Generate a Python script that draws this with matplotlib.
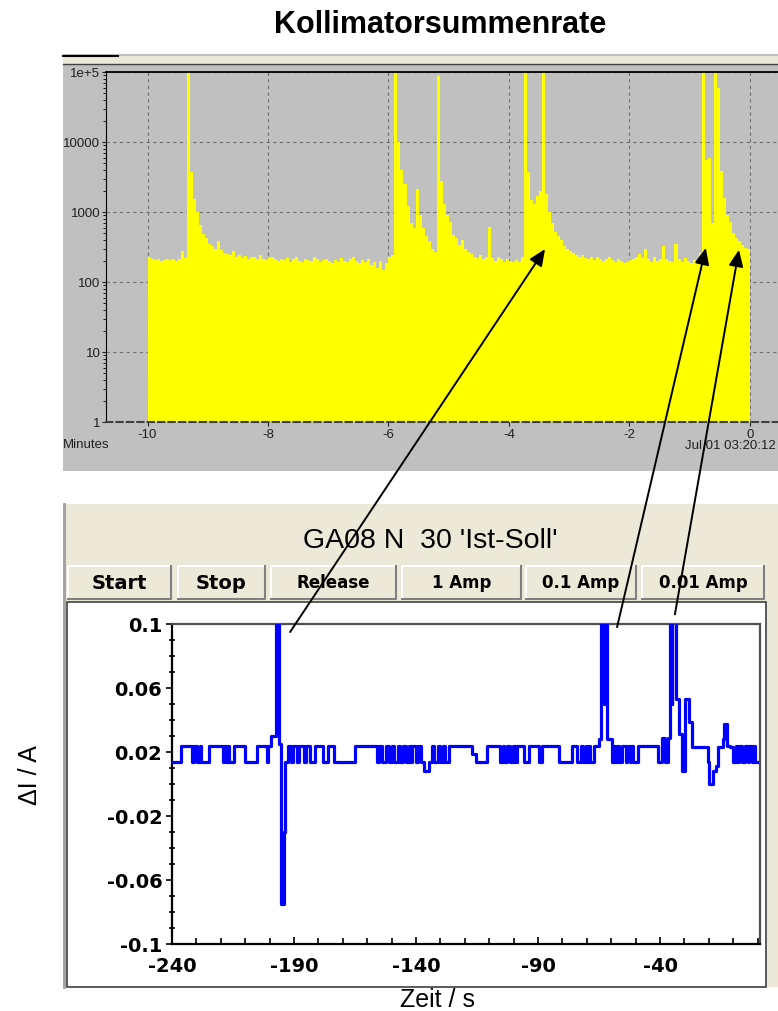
import matplotlib
matplotlib.use("Agg")
import matplotlib.pyplot as plt
from matplotlib.patches import Rectangle, ConnectionPatch
from matplotlib.ticker import MultipleLocator, NullFormatter
import numpy as np

plt.rcParams['font.family'] = ['Liberation Sans', 'DejaVu Sans']

W, H = 778, 1012

##
## top: Kollimatorsummenrate, bins of 0.05 min from -10 to 0
##
bin_width = 0.05
counts = [
    230, 215, 205, 210, 200, 205, 210, 205, 215, 200, 210, 280, 220,      # -10 .. -9.35
    200000,                                                               # peak -9.33
    3700, 1550, 1000, 650, 480, 420, 350, 330, 300, 380, 290,
    260, 250, 240, 280, 230, 245, 220, 235, 215, 230, 225, 210, 240, 215, 205, 220,
    230, 210, 200, 215, 205, 220, 195, 210, 225, 200,
    190, 215, 205, 200, 230, 210, 195, 205, 215, 200,
    185, 205, 195, 220, 200, 190, 210, 230, 200, 185,
    205, 195, 215, 175, 190, 160, 200, 150, 185, 230, 240,
    200000,                                                               # peak -5.88
    10000, 4000, 2500, 1200, 700, 600, 2100, 900, 600, 450, 380, 300, 270,
    87000,                                                                # peak -5.18
    2800, 1300, 900, 720, 470, 420, 340, 400, 300, 270, 250, 230, 220, 245, 210, 230,
    610,
    220, 200, 230, 210, 195, 215, 200, 190, 205, 195, 230,
    200000,                                                               # peak -3.75
    3700, 1500, 1300, 1700, 2000,
    200000,                                                               # peak -3.45
    1800, 1000, 700, 520, 450, 400, 330, 300, 280, 260,
    240, 230, 245, 220, 215, 230, 205, 225, 210, 200,
    215, 230, 205, 195, 210, 200, 185, 195, 205, 215, 230, 250, 220,
    300,
    210, 195, 230, 200, 210,
    330,
    215, 200, 195,
    350,
    210, 190, 220, 200, 185, 205, 195, 260,
    200000,                                                               # peak -0.78
    5500, 6000, 700,
    200000,                                                               # peak -0.58
    60000, 3800, 1600, 900, 720, 500, 420, 380, 340, 310, 300,
]
minute_ticks = [-10, -8, -6, -4, -2, 0]
decade_ticks = [1, 10, 100, 1000, 10000, 100000]
decade_labels = ['1', '10', '100', '1000', '10000', '1e+5']

##
## bottom: GA08 N 30 Ist-Soll (step trace)
##
t_ist = [
    -240.0, -236.5, -232.0, -231.0, -229.6, -228.5, -228.0, -224.9, -219.3, -218.5,
    -218.0, -217.0, -216.5, -214.6, -209.9, -205.2, -201.0, -200.5, -199.5, -197.4,
    -196.0, -195.4, -194.0, -193.5, -192.5, -191.2, -190.5, -188.8, -188.0, -186.0,
    -185.0, -183.6, -181.5, -178.0, -176.0, -173.6, -165.0, -156.0, -155.0, -154.0,
    -152.5, -151.0, -150.0, -149.0, -147.5, -146.5, -145.5, -144.0, -143.0, -142.0,
    -141.5, -140.0, -139.0, -138.0, -136.8, -134.5, -133.5, -132.5, -131.0, -130.0,
    -129.0, -128.0, -126.5, -117.0, -115.5, -110.9, -105.4, -104.5, -104.0, -102.7,
    -101.5, -100.3, -99.6, -98.8, -95.8, -93.8, -89.7, -88.3, -81.5, -76.0,
    -74.0, -72.5, -71.5, -70.5, -69.9, -69.0, -68.5, -67.1, -65.0, -64.0,
    -62.8, -62.7, -61.6, -59.8, -59.0, -58.5, -57.5, -57.0, -55.7, -54.0,
    -53.5, -52.5, -52.0, -51.0, -49.0, -40.8, -39.2, -38.0, -36.8, -36.0,
    -35.0, -34.9, -33.6, -32.2, -31.1, -29.9, -28.3, -27.0, -20.2, -19.9,
    -18.1, -17.0, -16.1, -14.3, -13.8, -12.4, -11.3, -10.2, -9.0, -8.0,
    -7.5, -6.5, -5.0, -4.0, -3.5, -2.5, -1.5, -1.0, -0.3,
]
d_ist = [
    0.014, 0.024, 0.014, 0.024, 0.014, 0.024, 0.014, 0.024, 0.014, 0.024,
    0.014, 0.024, 0.014, 0.024, 0.014, 0.024, 0.014, 0.024, 0.030, 0.120,
    0.025, -0.075, -0.030, 0.014, 0.024, 0.014, 0.024, 0.014, 0.024, 0.014,
    0.024, 0.014, 0.024, 0.014, 0.024, 0.014, 0.024, 0.014, 0.024, 0.014,
    0.024, 0.014, 0.024, 0.014, 0.024, 0.014, 0.024, 0.014, 0.024, 0.014,
    0.024, 0.014, 0.024, 0.014, 0.008, 0.014, 0.024, 0.014, 0.024, 0.014,
    0.024, 0.014, 0.024, 0.019, 0.014, 0.024, 0.014, 0.024, 0.014, 0.024,
    0.014, 0.024, 0.014, 0.024, 0.014, 0.024, 0.014, 0.024, 0.014, 0.024,
    0.014, 0.024, 0.014, 0.024, 0.014, 0.024, 0.014, 0.024, 0.028, 0.120,
    0.050, 0.120, 0.028, 0.014, 0.024, 0.014, 0.024, 0.014, 0.024, 0.014,
    0.024, 0.014, 0.024, 0.014, 0.024, 0.014, 0.029, 0.014, 0.029, 0.120,
    0.050, 0.120, 0.053, 0.031, 0.008, 0.053, 0.039, 0.023, 0.014, 0.000,
    0.008, 0.011, 0.023, 0.028, 0.0375, 0.024, 0.023, 0.014, 0.024, 0.014,
    0.024, 0.014, 0.024, 0.014, 0.024, 0.014, 0.024, 0.014, 0.014,
]
sec_ticks = [-240, -190, -140, -90, -40]
amp_ticks = [-0.1, -0.06, -0.02, 0.02, 0.06, 0.1]
amp_labels = ['-0.1', '-0.06', '-0.02', '0.02', '0.06', '0.1']
buttons = ['Start', 'Stop', 'Release', '1 Amp', '0.1 Amp', '0.01 Amp']

## arrows: tail (s, A) in lower plot -> head (min, counts) in upper plot
arrow_tail_s = [-191.6, -57.6, -33.9]
arrow_tail_a = [0.095, 0.098, 0.106]
arrow_head_min = [-3.40, -0.73, -0.18]
arrow_head_cnt = [295, 307, 288]


def box(x0, y0, x1, y1):
    # pixel box (top-left origin) -> figure fraction
    return [x0 / W, 1 - y1 / H, (x1 - x0) / W, (y1 - y0) / H]


fig = plt.figure(figsize=(W / 100, H / 100), dpi=100)

bg = fig.add_axes([0, 0, 1, 1])
bg.set_xlim(0, W)
bg.set_ylim(H, 0)
bg.axis('off')


def rect(x0, y0, x1, y1, **kw):
    bg.add_patch(Rectangle((x0, y0), x1 - x0, y1 - y0, **kw))


BEIGE = '#ece9d8'

## top window
rect(63, 55, 778, 472, fc='#c0c0c0', lw=0)
rect(63, 57, 778, 65, fc=BEIGE, lw=0)
bg.plot([63, 118], [56.5, 56.5], color='black', lw=1.5)
bg.plot([63, 778], [65, 65], color='#404040', lw=1)

## bottom window
rect(63, 505, 778, 988, fc=BEIGE, lw=0)
bg.plot([64, 64], [505, 988], color='#a0a0a0', lw=2)
rect(67, 603, 766, 988, fc='white', ec='#404040', lw=1.2)
bg.text(430, 541, "GA08 N  30 'Ist-Soll'", ha='center', va='center', fontsize=20.5)

button_x = [(67, 172), (177, 266), (270, 397), (401, 522), (525, 637), (641, 765)]
by0, by1 = 566, 601
for (x0, x1), name in zip(button_x, buttons):
    rect(x0, by0, x1, by1, fc=BEIGE, lw=0)
    bg.plot([x0 + 1, x0 + 1, x1 - 1], [by1 - 1, by0 + 1, by0 + 1], color='white', lw=1.5)
    bg.plot([x0 + 1, x1 - 1, x1 - 1], [by1 - 1, by1 - 1, by0 + 1], color='#808080', lw=1.5)
    fs = 14 if name in ('Start', 'Stop') else 12
    bg.text((x0 + x1) / 2, (by0 + by1) / 2, name, ha='center', va='center',
            fontsize=fs, weight='bold', family='DejaVu Sans')

## top plot
ax1 = fig.add_axes(box(106, 73, 810, 423))
edges = -10 + bin_width * np.arange(len(counts) + 1)
ax1.fill_between(edges, counts + [counts[-1]], 1, step='post', color='#ffff00', lw=0, zorder=2)
ax1.set_yscale('log')
ax1.set_ylim(1, 1e5)
ax1.set_xlim(-10.69, 1.0)
ax1.set_facecolor('#c0c0c0')
ax1.set_axisbelow(True)
ax1.grid(True, which='major', color='#707070', ls=(0, (3, 3)), lw=0.8)
ax1.set_xticks(minute_ticks)
ax1.set_xticklabels([str(m) for m in minute_ticks])
ax1.set_yticks(decade_ticks)
ax1.set_yticklabels(decade_labels)
ax1.yaxis.set_minor_formatter(NullFormatter())
ax1.tick_params(axis='both', labelsize=9.5, colors='#202020', length=3, width=0.8, pad=1)
ax1.tick_params(axis='x', pad=1)
ax1.tick_params(axis='y', which='minor', length=2, width=0.6)
ax1.spines['left'].set_color('black')
ax1.spines['top'].set_color('black')
ax1.spines['top'].set_linewidth(1.3)
ax1.spines['bottom'].set_color('#404040')
ax1.spines['bottom'].set_linestyle((0, (3, 2)))
ax1.spines['bottom'].set_linewidth(1.5)
ax1.spines['right'].set_visible(False)
bg.text(63, 445, 'Minutes', ha='left', va='center', fontsize=9.5, color='#202020')
bg.text(685, 446, 'Jul 01 03:20:12 2', ha='left', va='center', fontsize=9.5, color='#202020')

## bottom plot
ax2 = fig.add_axes(box(172, 625, 760, 945))
ax2.step(t_ist, d_ist, where='post', color='#0000ff', lw=2.3, zorder=3)
ax2.set_xlim(-240, 0.98)
ax2.set_ylim(-0.1, 0.1)
ax2.set_xticks(sec_ticks)
ax2.set_xticklabels([str(s) for s in sec_ticks])
ax2.set_yticks(amp_ticks)
ax2.set_yticklabels(amp_labels)
ax2.xaxis.set_minor_locator(MultipleLocator(10))
ax2.yaxis.set_minor_locator(MultipleLocator(0.01))
for lab in ax2.get_xticklabels() + ax2.get_yticklabels():
    lab.set_family('DejaVu Sans')
    lab.set_weight('bold')
    lab.set_fontsize(14)
ax2.tick_params(axis='x', which='major', direction='in', length=5, width=1.2, pad=9)
ax2.tick_params(axis='x', which='minor', direction='in', length=4, width=1.2)
ax2.tick_params(axis='y', which='major', direction='out', length=4, width=1.2, pad=3)
ax2.tick_params(axis='y', which='minor', direction='inout', length=4, width=1.2)
for side in ('left', 'bottom'):
    ax2.spines[side].set_color('black')
    ax2.spines[side].set_linewidth(1.6)
for side in ('top', 'right'):
    ax2.spines[side].set_color('#505050')
    ax2.spines[side].set_linewidth(1.6)

fig.text(437 / W, 1 - 1000 / H, 'Zeit / s', ha='center', va='center', fontsize=18)
fig.text(30 / W, 1 - 775 / H, '\u0394I / A', ha='center', va='center', fontsize=18, rotation=90)
fig.text(440 / W, 1 - 25 / H, 'Kollimatorsummenrate', ha='center', va='center',
         fontsize=22, weight='bold')

## arrows from the current spikes up to the rate peaks
for ts, va, tm, vc in zip(arrow_tail_s, arrow_tail_a, arrow_head_min, arrow_head_cnt):
    con = ConnectionPatch(xyA=(ts, va), coordsA=ax2.transData,
                          xyB=(tm, vc), coordsB=ax1.transData,
                          arrowstyle='-|>,head_length=0.5,head_width=0.22',
                          mutation_scale=20, color='black', lw=1.4)
    con.set_annotation_clip(False)
    con.set_zorder(10)
    fig.add_artist(con)

fig.savefig('out.png', dpi=100)
